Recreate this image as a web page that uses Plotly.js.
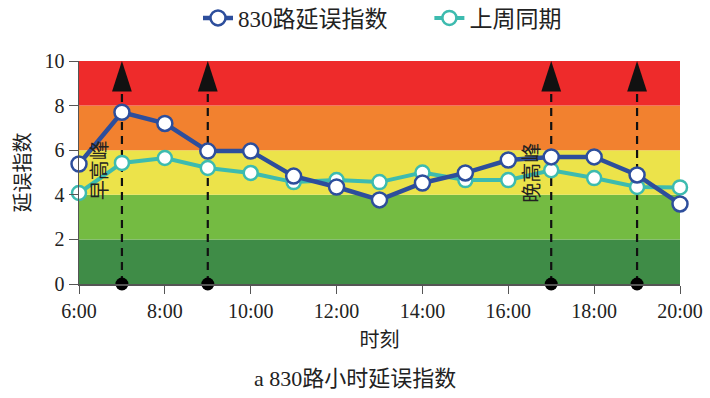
<!DOCTYPE html>
<html><head><meta charset="utf-8">
<script src="https://cdn.plot.ly/plotly-3.0.1.min.js"></script>
<style>html,body{margin:0;padding:0;background:#fff}#c{width:710px;height:398px}</style>
</head><body><div id="c"></div>
<script>
const hours = [6,7,8,9,10,11,12,13,14,15,16,17,18,19,20];
const tickVals = [6,8,10,12,14,16,18,20];
const tickText = ["6:00","8:00","10:00","12:00","14:00","16:00","18:00","20:00"];
const route830 = [5.38,7.7,7.2,5.96,5.96,4.84,4.35,3.77,4.53,4.98,5.56,5.7,5.7,4.89,3.59];
const lastWeek = [4.08,5.43,5.65,5.2,4.98,4.57,4.66,4.57,5.0,4.66,4.66,5.1,4.75,4.35,4.33];
const peakTimes = [7,9,17,19];
const arrowTop = 10;
const bandEdges = [0,2,4,6,8,10];
const bandColors = ["#3F8C47","#74BB42","#ECE34A","#F2812F","#EE2B2B"];

const serif = "Liberation Serif, Noto Sans CJK SC, serif";
const cjk = "Noto Sans CJK SC, sans-serif";

const lx=[], ly=[];
peakTimes.forEach(t=>{lx.push(t,t,null); ly.push(0,arrowTop-1.1,null);});

const traces = [
  {x:lx, y:ly, mode:"lines", line:{color:"#111",width:2.2,dash:"8px,6px"}, showlegend:false, hoverinfo:"skip", cliponaxis:false},
  {x:peakTimes, y:peakTimes.map(()=>0), mode:"markers", marker:{color:"#000",size:13}, showlegend:false, cliponaxis:false},
  {x:peakTimes, y:peakTimes.map(()=>arrowTop), mode:"markers", marker:{color:"#111",size:32,symbol:"arrow"}, showlegend:false, cliponaxis:false},
  {x:hours, y:lastWeek, name:"上周同期", legend:"legend2", mode:"lines+markers",
   line:{color:"#3DBBAF",width:4}, marker:{color:"#fff",size:14,line:{color:"#3DBBAF",width:2.5}}, cliponaxis:false},
  {x:hours, y:route830, name:"830路延误指数", legend:"legend", mode:"lines+markers",
   line:{color:"#2D4E9C",width:4.5}, marker:{color:"#fff",size:15,line:{color:"#2D4E9C",width:2.5}}, cliponaxis:false}
];

const shapes = bandColors.map((c,i)=>({type:"rect",xref:"paper",yref:"y",x0:0,x1:1,y0:bandEdges[i],y1:bandEdges[i+1],fillcolor:c,line:{width:0},layer:"below"}));

const legFont = {family:serif,size:23,color:"#222"};
const layout = {
  width:710, height:398,
  margin:{l:79,r:30,t:61,b:114,autoexpand:false},
  paper_bgcolor:"#fff", plot_bgcolor:"#fff",
  showlegend:true,
  legend:{orientation:"h",x:0.198,xanchor:"left",y:1.193,yanchor:"middle",font:legFont,bgcolor:"rgba(0,0,0,0)"},
  legend2:{orientation:"h",x:0.583,xanchor:"left",y:1.193,yanchor:"middle",font:legFont,bgcolor:"rgba(0,0,0,0)"},
  xaxis:{range:[6,20],tickvals:tickVals,ticktext:tickText,showgrid:false,zeroline:false,
    showline:true,linecolor:"#555",linewidth:1.5,ticks:"outside",ticklen:8,tickcolor:"#555",
    tickfont:{family:serif,size:20,color:"#222"},
    title:{text:"时刻",font:{family:cjk,size:20,color:"#222"},standoff:12}},
  yaxis:{range:[0,10],dtick:2,showgrid:false,zeroline:false,
    showline:true,linecolor:"#555",linewidth:1.5,ticks:"outside",ticklen:9,tickcolor:"#555",
    tickfont:{family:serif,size:20,color:"#222"},
    title:{text:"延误指数",font:{family:cjk,size:20,color:"#222"},standoff:8}},
  shapes:shapes,
  annotations:[
    {x:6.44,y:5.1,xref:"x",yref:"y",text:"早高峰",textangle:-90,showarrow:false,font:{family:cjk,size:20,color:"#222"}},
    {x:16.51,y:5.0,xref:"x",yref:"y",text:"晚高峰",textangle:-90,showarrow:false,font:{family:cjk,size:20,color:"#222"}},
    {x:0.46,y:0,xref:"paper",yref:"paper",yshift:-94,text:"a 830路小时延误指数",showarrow:false,yanchor:"middle",
     font:{family:serif,size:22,color:"#222"}}
  ]
};
Plotly.newPlot("c",traces,layout,{displayModeBar:false,staticPlot:true});
</script></body></html>
